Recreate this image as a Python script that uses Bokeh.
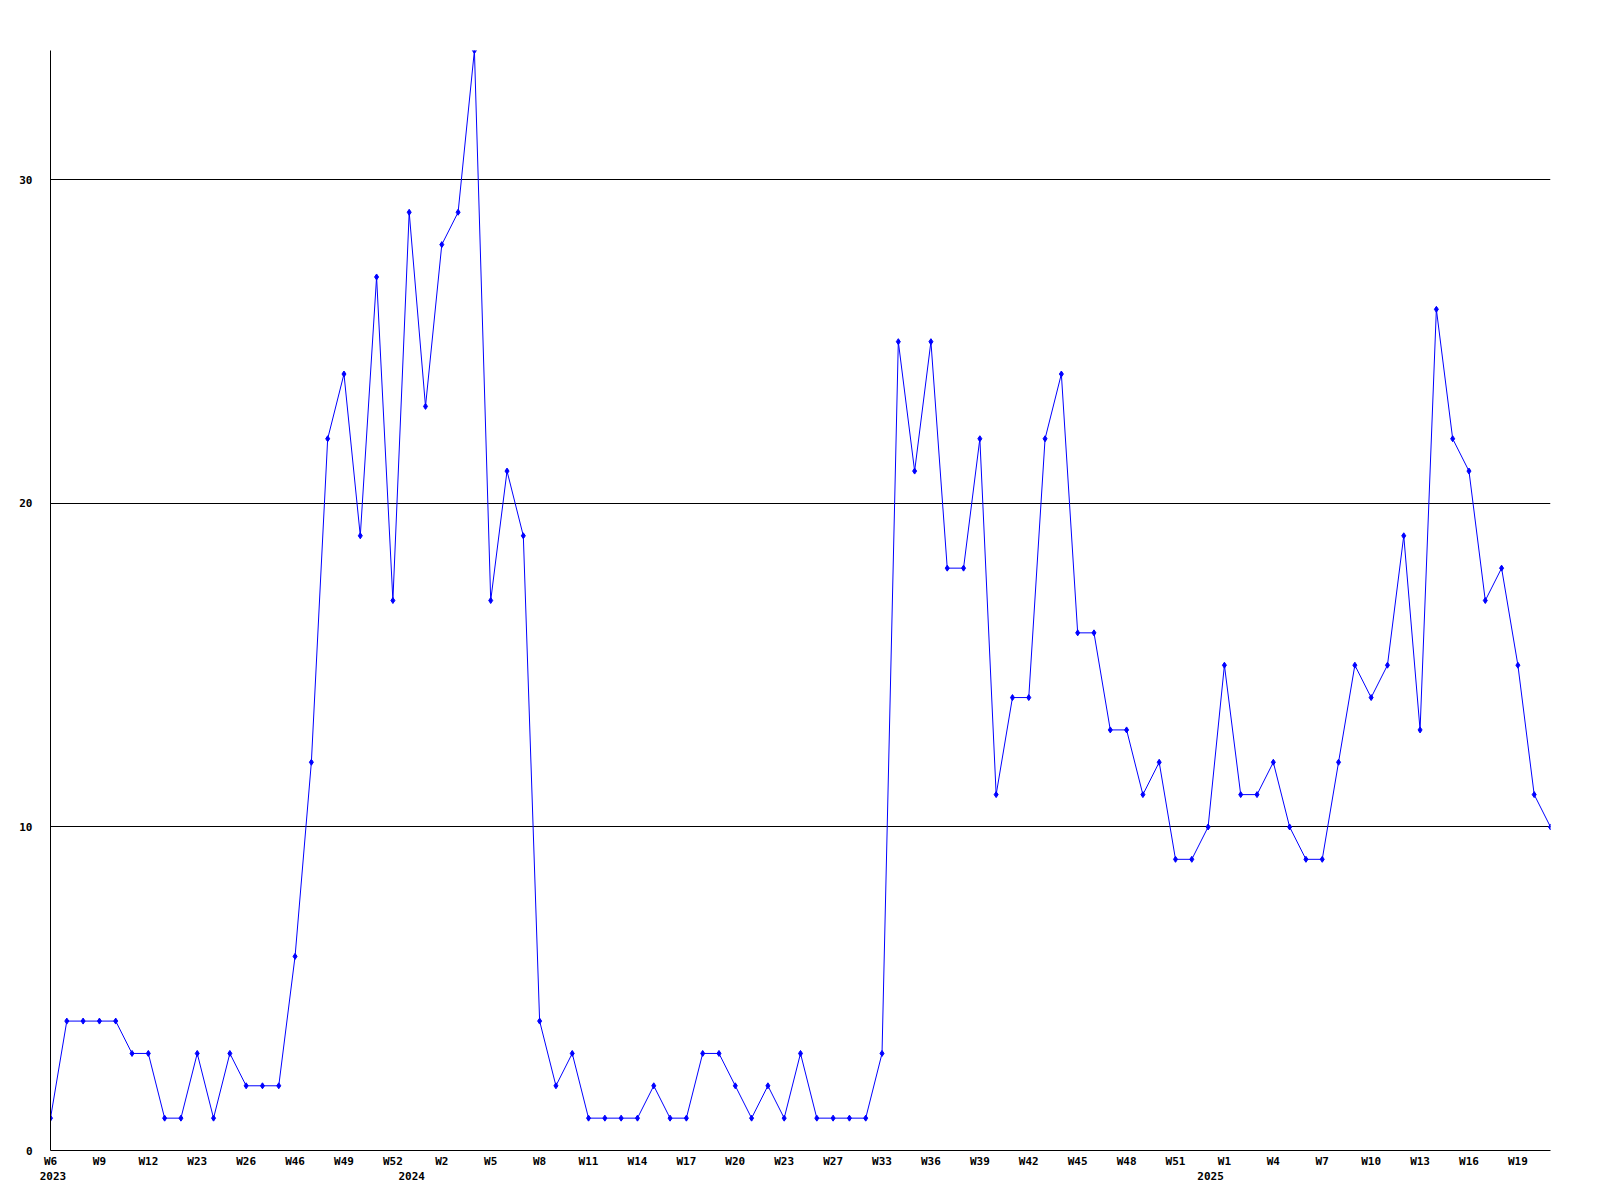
from bokeh.plotting import figure
from bokeh.models import FixedTicker, LinearAxis, Range1d
from bokeh.embed import file_html
from bokeh.resources import INLINE

# Weekly counts (one point per week present in the data, evenly spaced)
counts = [
    1, 4, 4, 4, 4, 3, 3, 1, 1, 3, 1, 3, 2, 2, 2,          # 2023 W6 .. (to W46)
    6, 12, 22, 24, 19, 27, 17,                            # W46 .. W52
    29, 23, 28, 29, 34, 17, 21, 19,                       # 2024 W0 ..
    4, 2, 3, 1, 1, 1, 1, 2, 1, 1, 3, 3, 2, 1, 2, 1, 3,
    1, 1, 1, 1, 3,
    25, 21, 25, 18, 18, 22, 11, 14, 14, 22, 24, 16, 16,
    13, 13, 11, 12, 9, 9, 10,
    15, 11, 11, 12, 10, 9, 9, 12, 15, 14, 15, 19, 13,     # 2025 W1 ..
    26, 22, 21, 17, 18, 15, 11, 10,
]

# Labels shown under every third point
week_tick_labels = [
    "W6", "W9", "W12", "W23", "W26", "W46", "W49", "W52", "W2", "W5",
    "W8", "W11", "W14", "W17", "W20", "W23", "W27", "W33", "W36", "W39",
    "W42", "W45", "W48", "W51", "W1", "W4", "W7", "W10", "W13", "W16", "W19",
]
label_every = 3

# Year captions and the index of the first point of each year
years = ["2023", "2024", "2025"]
year_first_point = [0, 22, 71]

y_ticks = [0, 10, 20, 30]
y_max = 34

x = list(range(len(counts)))
n_last = len(counts) - 1

FONT = "DejaVu Sans Mono"
FRAME_W = 1500
px_per_point = FRAME_W / n_last


def style_axis(ax, standoff):
    ax.major_tick_line_color = None
    ax.minor_tick_line_color = None
    ax.major_tick_out = 0
    ax.major_tick_in = 0
    ax.minor_tick_out = 0
    ax.minor_tick_in = 0
    ax.major_label_standoff = standoff
    ax.major_label_text_font = FONT
    ax.major_label_text_font_style = "bold"
    ax.major_label_text_font_size = "11px"
    ax.major_label_text_color = "black"


p = figure(
    frame_width=FRAME_W, frame_height=1100,
    x_range=Range1d(0, n_last), y_range=Range1d(0, y_max),
    output_backend="svg", toolbar_location=None,
    min_border_left=50, min_border_top=50, min_border_right=30, min_border_bottom=10,
    background_fill_color="white", border_fill_color="white",
)
p.outline_line_color = None

# year captions sit a little to the right of their first point, as in the original
yr_shift = -2.5 / px_per_point
p.extra_x_ranges = {"years": Range1d(yr_shift, n_last + yr_shift)}

p.line(x, counts, line_color="#0000ff", line_width=1)
p.scatter(x, counts, marker="diamond", size=6, color="#0000ff")

# x axis (weeks)
xa = p.xaxis[0]
xa.ticker = FixedTicker(ticks=[i * label_every for i in range(len(week_tick_labels))])
xa.major_label_overrides = {i * label_every: lab for i, lab in enumerate(week_tick_labels)}
xa.axis_line_color = "black"
xa.axis_line_width = 1
style_axis(xa, 4)

# year caption axis
ya2 = LinearAxis(
    x_range_name="years",
    ticker=FixedTicker(ticks=year_first_point),
    major_label_overrides={pos: yr for pos, yr in zip(year_first_point, years)},
)
ya2.axis_line_color = None
style_axis(ya2, 1)
p.add_layout(ya2, "below")

# y axis
ya = p.yaxis[0]
ya.ticker = FixedTicker(ticks=y_ticks)
ya.axis_line_color = "black"
style_axis(ya, 18)

p.xgrid.visible = False
p.ygrid.ticker = FixedTicker(ticks=y_ticks)
p.ygrid.grid_line_color = "black"
p.ygrid.grid_line_alpha = 1.0
p.ygrid.grid_line_width = 1

open("out.html", "w").write(file_html(p, INLINE))
